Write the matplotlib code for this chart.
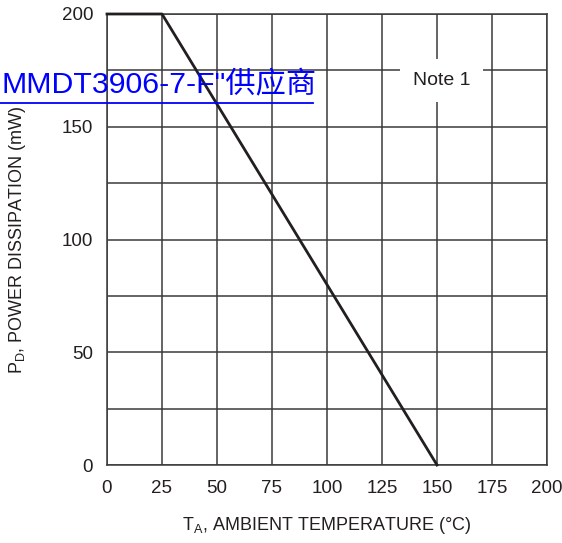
import matplotlib.pyplot as plt
import matplotlib.lines as mlines

plt.rcParams['font.family'] = ['Liberation Sans', 'DejaVu Sans']

# derating curve
temp = [0, 25, 150]
power = [200, 200, 0]

x_ticks = [0, 25, 50, 75, 100, 125, 150, 175, 200]
y_ticks = [0, 25, 50, 75, 100, 125, 150, 175, 200]
y_labels = ['0', '', '50', '', '100', '', '150', '', '200']

fig = plt.figure(figsize=(5.62, 5.43), dpi=100)
ax = fig.add_axes([107 / 562, 78 / 543, 440 / 562, 451 / 543])

ax.plot(temp, power, color='#231f20', lw=2.0, zorder=3, clip_on=False)

ax.set_xlim(0, 200)
ax.set_ylim(0, 200)
ax.set_xticks(x_ticks)
ax.set_yticks(y_ticks)
ax.set_yticklabels(y_labels)
ax.grid(True, color='#3a3a3a', lw=1.1)
for s in ax.spines.values():
    s.set_color('#3a3a3a')
    s.set_linewidth(1.1)
ax.tick_params(length=0, labelsize=13.5, colors='#231f20')
ax.tick_params(axis='x', pad=11)
ax.tick_params(axis='y', pad=10)

ax.set_xlabel(r'$\mathregular{T_A}$, AMBIENT TEMPERATURE (°C)', fontsize=13,
              color='#231f20')
ax.xaxis.set_label_coords(0.5, -60 / 451)
ax.xaxis.label.set_va('center')
ax.set_ylabel(r'$\mathregular{P_D}$, POWER DISSIPATION (mW)', fontsize=13,
              color='#231f20')
ax.yaxis.set_label_coords(-89 / 440, 0.5)
ax.yaxis.label.set_va('center')

ax.text(152, 170.5, 'Note 1', fontsize=14, color='#231f20', ha='center',
        va='center', zorder=4,
        bbox=dict(boxstyle='square,pad=0.65', fc='white', ec='none'))

# link overlay
fig.text(1 / 562, 1 - 93 / 543, 'MMDT3906-7-F"供应商', fontsize=21.8,
         color='#0000ff', ha='left', va='baseline',
         family=['Liberation Sans', 'Noto Sans CJK SC'])
fig.add_artist(mlines.Line2D([0, 313 / 562], [1 - 103 / 543, 1 - 103 / 543],
                             color='#0000ff', lw=1.3))

fig.savefig('out.png', dpi=100)
